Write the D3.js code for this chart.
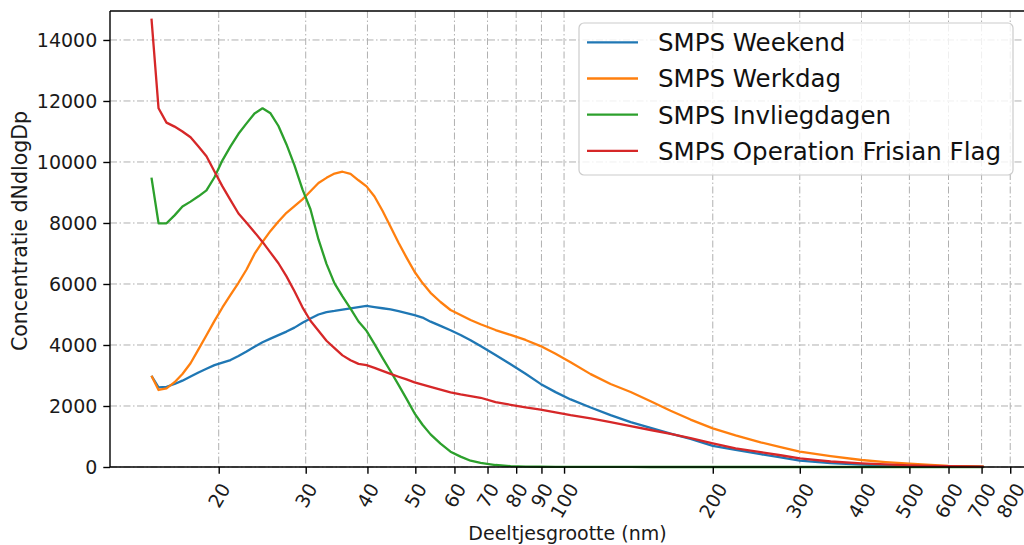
<!DOCTYPE html>
<html>
<head>
<meta charset="utf-8">
<script src="https://cdn.jsdelivr.net/npm/d3@7"></script>
<style>
  html, body { margin: 0; padding: 0; background: #fff; overflow: hidden; }
  svg { display: block; font-family: "DejaVu Sans", sans-serif; }
</style>
</head>
<body>
<svg id="chart" width="1024" height="545"></svg>
<script>
// Particle diameters (nm)
const diameters = [14.62, 15.11, 15.68, 16.28, 16.89, 17.54, 18.20, 18.89, 19.61, 20.35,
  21.13, 21.93, 22.77, 23.63, 24.53, 25.46, 26.42, 27.43, 28.47, 29.55,
  30.67, 31.84, 33.05, 34.31, 35.61, 36.97, 38.37, 39.83, 41.34, 42.91,
  44.55, 46.24, 48.00, 49.82, 51.71, 53.68, 56.23, 58.91, 61.74, 64.68,
  67.77, 72.67, 77.95, 83.58, 89.64, 96.12, 103.1, 113.2, 124.2, 136.4,
  149.7, 164.3, 180.3, 200, 222.4, 250, 274.3, 300, 346.4, 400,
  447.6, 500, 552.1, 600, 649.9, 706.6];

const weekend = [2990, 2610, 2630, 2720, 2830, 2965, 3100, 3220, 3340, 3420,
  3505, 3640, 3785, 3940, 4090, 4210, 4325, 4440, 4570, 4730,
  4870, 5000, 5080, 5115, 5160, 5200, 5240, 5280, 5245, 5205,
  5165, 5110, 5045, 4980, 4900, 4765, 4625, 4485, 4330, 4155,
  3965, 3670, 3370, 3055, 2725, 2455, 2215, 1950, 1700, 1470,
  1280, 1097, 920, 690, 560, 420, 315, 207, 130, 80,
  50, 30, 22, 15, 10, 5];

const werkdag = [2990, 2525, 2580, 2780, 3050, 3400, 3855, 4320, 4790, 5230,
  5640, 6040, 6475, 6985, 7380, 7740, 8050, 8335, 8555, 8775,
  9040, 9310, 9480, 9620, 9680, 9610, 9400, 9200, 8870, 8400,
  7880, 7350, 6865, 6400, 6030, 5710, 5410, 5148, 4984, 4820,
  4680, 4490, 4330, 4165, 3965, 3710, 3435, 3045, 2720, 2460,
  2155, 1843, 1555, 1268, 1036, 808, 655, 502, 360, 230,
  160, 108, 70, 40, 25, 10];

const invliegdagen = [9486, 7990, 7990, 8250, 8540, 8700, 8875, 9070, 9500, 10055,
  10510, 10925, 11265, 11590, 11760, 11595, 11180, 10575, 9890, 9100,
  8450, 7460, 6660, 6020, 5595, 5195, 4770, 4465, 4030, 3580,
  3140, 2695, 2235, 1760, 1385, 1070, 765, 502, 340, 205,
  135, 65, 30, 15, 8, 5, 3, 2, 1, 1,
  0, 0, 0, 0, 0, 0, 0, 0, 0, 0,
  0, 0, 0, 0, 0, 0];

const frisianFlag = [14700, 11760, 11290, 11160, 11000, 10810, 10510, 10190, 9690, 9200,
  8750, 8310, 8010, 7700, 7380, 7030, 6680, 6250, 5760, 5235,
  4795, 4470, 4140, 3895, 3660, 3500, 3380, 3340, 3250, 3150,
  3055, 2960, 2870, 2775, 2700, 2630, 2540, 2450, 2380, 2325,
  2270, 2130, 2040, 1955, 1878, 1790, 1700, 1595, 1475, 1340,
  1213, 1082, 950, 777, 610, 485, 385, 285, 180, 120,
  85, 55, 40, 30, 20, 10];

const seriesNames = ["SMPS Weekend", "SMPS Werkdag", "SMPS Invliegdagen", "SMPS Operation Frisian Flag"];
const seriesColors = ["#1f77b4", "#ff7f0e", "#2ca02c", "#d62728"];
const xTickValues = [20, 30, 40, 50, 60, 70, 80, 90, 100, 200, 300, 400, 500, 600, 700, 800];
const yTickValues = [0, 2000, 4000, 6000, 8000, 10000, 12000, 14000];
const xLabel = "Deeltjesgrootte (nm)";
const yLabel = "Concentratie dNdlogDp";

const allSeries = [weekend, werkdag, invliegdagen, frisianFlag];

(function () {
const svg = d3.select("#chart");
const pL = 110, pR = 1025, pT = 11, pB = 467;

const x = d3.scaleLog().domain([12.05, 857]).range([pL, pR]);
const y = d3.scaleLinear().domain([0, 14950]).range([pB, pT]);

const gridColor = "#b0b0b0";
const dash = "7,2.5,1.5,2.5";

// grid
const grid = svg.append("g");
grid.selectAll("line.vx").data(xTickValues).join("line")
  .attr("x1", d => x(d)).attr("x2", d => x(d))
  .attr("y1", pT).attr("y2", pB)
  .attr("stroke", gridColor).attr("stroke-width", 1).attr("stroke-dasharray", dash);
grid.selectAll("line.hy").data(yTickValues).join("line")
  .attr("x1", pL).attr("x2", pR)
  .attr("y1", d => y(d)).attr("y2", d => y(d))
  .attr("stroke", gridColor).attr("stroke-width", 1).attr("stroke-dasharray", dash);

// lines
const line = d3.line().x((d, i) => x(diameters[i])).y(d => y(d));
allSeries.forEach((s, k) => {
  svg.append("path").datum(s)
    .attr("d", line)
    .attr("fill", "none")
    .attr("stroke", seriesColors[k])
    .attr("stroke-width", 2.3)
    .attr("stroke-linejoin", "round")
    .attr("stroke-linecap", "butt");
});

// spines
svg.append("line").attr("x1", pL).attr("x2", pR).attr("y1", pT).attr("y2", pT)
  .attr("stroke", "#000").attr("stroke-width", 1.4);
svg.append("line").attr("x1", pL).attr("x2", pL).attr("y1", pT).attr("y2", pB)
  .attr("stroke", "#000").attr("stroke-width", 1.4);
svg.append("line").attr("x1", pR).attr("x2", pR).attr("y1", pT).attr("y2", pB)
  .attr("stroke", "#000").attr("stroke-width", 1.4);

// y axis
const yAxis = d3.axisLeft(y).tickValues(yTickValues).tickSize(6.7).tickPadding(6).tickFormat(d3.format("d"));
const gy = svg.append("g").attr("transform", `translate(${pL},0)`).call(yAxis);
gy.select(".domain").remove();
gy.selectAll(".tick line").attr("stroke", "#000").attr("stroke-width", 1.4);
gy.selectAll(".tick text").attr("font-size", 19).attr("fill", "#1a1a1a")
  .attr("font-family", "DejaVu Sans").attr("dy", "0.34em");

// x axis
const xAxis = d3.axisBottom(x).tickValues(xTickValues).tickSize(6.7).tickFormat(d3.format("d"));
const gx = svg.append("g").attr("transform", `translate(0,${pB})`).call(xAxis);
gx.select(".domain").attr("stroke", "#000").attr("stroke-width", 1.4).attr("d", `M${pL},0H${pR}`);
gx.selectAll(".tick line").attr("stroke", "#000").attr("stroke-width", 1.4);
gx.selectAll(".tick text").each(function () {
  const t = d3.select(this);
  t.attr("font-size", 19).attr("fill", "#1a1a1a").attr("font-family", "DejaVu Sans")
   .attr("text-anchor", "middle").attr("dy", "0.35em").attr("y", 0);
  const w = this.getComputedTextLength();
  const fh = 19 * 0.95;
  const h = w * Math.sin(Math.PI / 3) + fh * Math.cos(Math.PI / 3);
  const cy = 13.5 + h / 2;
  t.attr("transform", `translate(0,${cy}) rotate(-60)`);
});

// axis labels
svg.append("text").attr("x", (pL + pR) / 2).attr("y", 540)
  .attr("text-anchor", "middle").attr("font-size", 19).attr("fill", "#1a1a1a")
  .text(xLabel);
svg.append("text").attr("transform", `translate(27,231) rotate(-90)`)
  .attr("text-anchor", "middle").attr("font-size", 20.5).attr("fill", "#1a1a1a")
  .text(yLabel);

// legend
const lg = svg.append("g");
lg.append("rect").attr("x", 579).attr("y", 23).attr("width", 434).attr("height", 152)
  .attr("rx", 5).attr("ry", 5)
  .attr("fill", "#fff").attr("fill-opacity", 0.8)
  .attr("stroke", "#cccccc").attr("stroke-width", 1.2);
seriesNames.forEach((name, i) => {
  const cy = 42.3 + i * 36.2;
  lg.append("line").attr("x1", 587).attr("x2", 638).attr("y1", cy).attr("y2", cy)
    .attr("stroke", seriesColors[i]).attr("stroke-width", 2.3);
  lg.append("text").attr("x", 658).attr("y", cy).attr("dy", "0.36em")
    .attr("font-size", 24.5).attr("fill", "#111").text(name);
});
})();
</script>
</body>
</html>
